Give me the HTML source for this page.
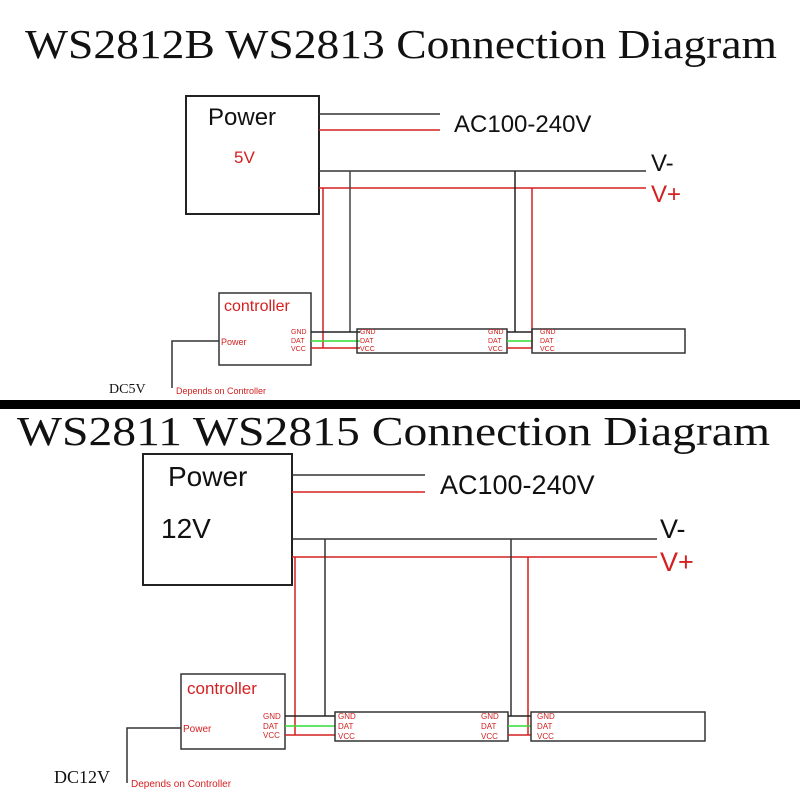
<!DOCTYPE html>
<html><head><meta charset="utf-8"><style>
html,body{margin:0;padding:0;background:#fff;}
svg{display:block}
.s{font-family:"Liberation Serif",serif;}
.a{font-family:"Liberation Sans",sans-serif;}
</style></head><body>
<svg width="800" height="800" viewBox="0 0 800 800" xmlns="http://www.w3.org/2000/svg">
<rect width="800" height="800" fill="#fff"/>
<!-- TOP -->
<text class="s" x="25" y="58" font-size="41" textLength="752" lengthAdjust="spacingAndGlyphs" fill="#111">WS2812B WS2813 Connection Diagram</text>
<rect x="186" y="96" width="133" height="118" fill="none" stroke="#222" stroke-width="2"/>
<text class="a" x="208" y="125" font-size="24" fill="#111">Power</text>
<text class="a" x="234" y="163" font-size="17" fill="#d42020">5V</text>
<line x1="319" y1="114" x2="440" y2="114" stroke="#333" stroke-width="1.5"/>
<line x1="319" y1="130" x2="440" y2="130" stroke="#d42020" stroke-width="1.5"/>
<text class="a" x="454" y="132" font-size="24" fill="#111">AC100-240V</text>
<line x1="319" y1="171" x2="646" y2="171" stroke="#333" stroke-width="1.5"/>
<line x1="319" y1="188" x2="646" y2="188" stroke="#d42020" stroke-width="1.5"/>
<text class="a" x="651" y="171" font-size="24" fill="#111">V-</text>
<text class="a" x="651" y="202" font-size="24" fill="#d42020">V+</text>
<line x1="350" y1="171" x2="350" y2="332" stroke="#444" stroke-width="1.5"/>
<line x1="323" y1="188" x2="323" y2="348" stroke="#d42020" stroke-width="1.5"/>
<line x1="515" y1="171" x2="515" y2="332" stroke="#222" stroke-width="1.5"/>
<line x1="532" y1="188" x2="532" y2="348" stroke="#d42020" stroke-width="1.5"/>
<rect x="219" y="293" width="92" height="72" fill="none" stroke="#333" stroke-width="1.5"/>
<text class="a" x="224" y="311" font-size="16" fill="#d42020">controller</text>
<text class="a" x="221" y="345" font-size="9" fill="#d42020">Power</text>
<text class="a" x="291" y="334" font-size="7" fill="#d42020">GND</text>
<text class="a" x="291" y="343" font-size="7" fill="#d42020">DAT</text>
<text class="a" x="291" y="351" font-size="7" fill="#d42020">VCC</text>
<line x1="311" y1="332" x2="360" y2="332" stroke="#222" stroke-width="1.5"/>
<line x1="311" y1="341" x2="360" y2="341" stroke="#33dd33" stroke-width="1.5"/>
<line x1="311" y1="348" x2="360" y2="348" stroke="#d42020" stroke-width="1.5"/>
<rect x="357" y="329" width="150" height="24" fill="none" stroke="#333" stroke-width="1.5"/>
<text class="a" x="360" y="334" font-size="7" fill="#d42020">GND</text>
<text class="a" x="360" y="343" font-size="7" fill="#d42020">DAT</text>
<text class="a" x="360" y="351" font-size="7" fill="#d42020">VCC</text>
<text class="a" x="488" y="334" font-size="7" fill="#d42020">GND</text>
<text class="a" x="488" y="343" font-size="7" fill="#d42020">DAT</text>
<text class="a" x="488" y="351" font-size="7" fill="#d42020">VCC</text>
<line x1="507" y1="332" x2="532" y2="332" stroke="#222" stroke-width="1.5"/>
<line x1="507" y1="341" x2="532" y2="341" stroke="#33dd33" stroke-width="1.5"/>
<line x1="507" y1="348" x2="532" y2="348" stroke="#d42020" stroke-width="1.5"/>
<rect x="532" y="329" width="153" height="24" fill="none" stroke="#333" stroke-width="1.5"/>
<text class="a" x="540" y="334" font-size="7" fill="#d42020">GND</text>
<text class="a" x="540" y="343" font-size="7" fill="#d42020">DAT</text>
<text class="a" x="540" y="351" font-size="7" fill="#d42020">VCC</text>
<polyline points="219,341 172,341 172,388" fill="none" stroke="#333" stroke-width="1.5"/>
<text class="s" x="109" y="393" font-size="14" fill="#111">DC5V</text>
<text class="a" x="176" y="394" font-size="9" fill="#d42020">Depends on Controller</text>
<rect x="0" y="400" width="800" height="9" fill="#000"/>
<!-- BOTTOM -->
<text class="s" x="17" y="445" font-size="41" textLength="753" lengthAdjust="spacingAndGlyphs" fill="#111">WS2811 WS2815 Connection Diagram</text>
<rect x="143" y="454" width="149" height="131" fill="none" stroke="#222" stroke-width="2"/>
<text class="a" x="168" y="486" font-size="28" fill="#111">Power</text>
<text class="a" x="161" y="538" font-size="28" fill="#111">12V</text>
<line x1="292" y1="475" x2="425" y2="475" stroke="#333" stroke-width="1.5"/>
<line x1="292" y1="492" x2="425" y2="492" stroke="#d42020" stroke-width="1.5"/>
<text class="a" x="440" y="494" font-size="27" fill="#111">AC100-240V</text>
<line x1="292" y1="539" x2="657" y2="539" stroke="#333" stroke-width="1.5"/>
<line x1="292" y1="557" x2="657" y2="557" stroke="#d42020" stroke-width="1.5"/>
<text class="a" x="660" y="538" font-size="27" fill="#111">V-</text>
<text class="a" x="660" y="571" font-size="27" fill="#d42020">V+</text>
<line x1="325" y1="539" x2="325" y2="716" stroke="#333" stroke-width="1.5"/>
<line x1="295" y1="557" x2="295" y2="735" stroke="#d42020" stroke-width="1.5"/>
<line x1="511" y1="539" x2="511" y2="716" stroke="#333" stroke-width="1.5"/>
<line x1="528" y1="557" x2="528" y2="735" stroke="#d42020" stroke-width="1.5"/>
<rect x="181" y="674" width="104" height="75" fill="none" stroke="#333" stroke-width="1.5"/>
<text class="a" x="187" y="694" font-size="17" fill="#d42020">controller</text>
<text class="a" x="183" y="732" font-size="10" fill="#d42020">Power</text>
<text class="a" x="263" y="719" font-size="8" fill="#d42020">GND</text>
<text class="a" x="263" y="729" font-size="8" fill="#d42020">DAT</text>
<text class="a" x="263" y="738" font-size="8" fill="#d42020">VCC</text>
<line x1="285" y1="716" x2="335" y2="716" stroke="#222" stroke-width="1.5"/>
<line x1="285" y1="726" x2="335" y2="726" stroke="#33dd33" stroke-width="1.5"/>
<line x1="285" y1="735" x2="335" y2="735" stroke="#d42020" stroke-width="1.5"/>
<rect x="335" y="712" width="173" height="29" fill="none" stroke="#333" stroke-width="1.5"/>
<text class="a" x="338" y="719" font-size="8" fill="#d42020">GND</text>
<text class="a" x="338" y="729" font-size="8" fill="#d42020">DAT</text>
<text class="a" x="338" y="739" font-size="8" fill="#d42020">VCC</text>
<text class="a" x="481" y="719" font-size="8" fill="#d42020">GND</text>
<text class="a" x="481" y="729" font-size="8" fill="#d42020">DAT</text>
<text class="a" x="481" y="739" font-size="8" fill="#d42020">VCC</text>
<line x1="508" y1="716" x2="531" y2="716" stroke="#222" stroke-width="1.5"/>
<line x1="508" y1="726" x2="531" y2="726" stroke="#33dd33" stroke-width="1.5"/>
<line x1="508" y1="735" x2="531" y2="735" stroke="#d42020" stroke-width="1.5"/>
<rect x="531" y="712" width="174" height="29" fill="none" stroke="#333" stroke-width="1.5"/>
<text class="a" x="537" y="719" font-size="8" fill="#d42020">GND</text>
<text class="a" x="537" y="729" font-size="8" fill="#d42020">DAT</text>
<text class="a" x="537" y="739" font-size="8" fill="#d42020">VCC</text>
<polyline points="181,728 127,728 127,783" fill="none" stroke="#333" stroke-width="1.5"/>
<text class="s" x="54" y="783" font-size="18" fill="#111">DC12V</text>
<text class="a" x="131" y="787" font-size="10" fill="#d42020">Depends on Controller</text>
</svg>
</body></html>
